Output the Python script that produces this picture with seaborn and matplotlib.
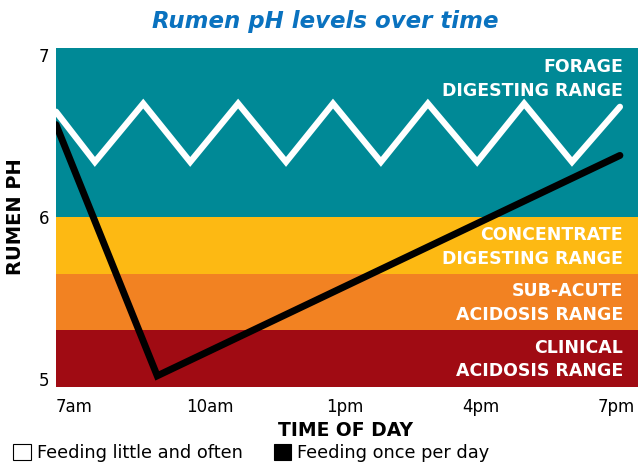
import matplotlib
matplotlib.use("Agg")
import matplotlib.pyplot as plt
import seaborn as sns
import pandas as pd
from matplotlib.patches import Patch

# time in hours of the day, pH values
little_often_hours = [6.60, 7.46, 8.53, 9.57, 10.63, 11.69, 12.73, 13.79, 14.83, 15.92, 16.96, 18.02, 19.08]
little_often_ph = [6.65, 6.34, 6.70, 6.34, 6.70, 6.34, 6.70, 6.34, 6.70, 6.34, 6.70, 6.34, 6.68]
once_hours = [6.60, 8.84, 19.08]
once_ph = [6.57, 5.02, 6.38]

tick_hours = [7, 10, 13, 16, 19]
tick_labels = ["7am", "10am", "1pm", "4pm", "7pm"]

bands = [
    (6.0, 7.2, "#008996", "FORAGE\nDIGESTING RANGE"),
    (5.65, 6.0, "#FDB913", "CONCENTRATE\nDIGESTING RANGE"),
    (5.3, 5.65, "#F28222", "SUB-ACUTE\nACIDOSIS RANGE"),
    (4.8, 5.3, "#A00B13", "CLINICAL\nACIDOSIS RANGE"),
]
label_y = [6.85, 5.815, 5.47, 5.12]

sns.set_style("white")
plt.rcParams['font.family'] = ['DejaVu Sans']
plt.rcParams['text.color'] = 'black'
plt.rcParams['axes.labelcolor'] = 'black'

fig = plt.figure(figsize=(6.38, 4.65), dpi=100)
ax = fig.add_axes([0.0878, 0.1677, 0.9122, 0.7291])

for (lo, hi, col, txt), ty in zip(bands, label_y):
    ax.axhspan(lo, hi, color=col, lw=0, zorder=0)
    ax.text(19.15, ty, txt, color="white", fontsize=12.5, fontweight="bold",
            ha="right", va="center", linespacing=1.4, zorder=3)

df_once = pd.DataFrame({"hour": once_hours, "ph": once_ph})
df_little = pd.DataFrame({"hour": little_often_hours, "ph": little_often_ph})

sns.lineplot(data=df_once, x="hour", y="ph", ax=ax, color="black", lw=5,
             sort=False, zorder=4, solid_joinstyle="miter")
sns.lineplot(data=df_little, x="hour", y="ph", ax=ax, color="white", lw=4.5,
             sort=False, zorder=5, solid_joinstyle="miter")

ax.set_xlim(6.6, 19.48)
ax.set_ylim(4.951, 7.043)
ax.set_xticks(tick_hours)
ax.set_xticklabels(tick_labels)
ax.set_yticks([5, 6, 7])
ax.tick_params(axis="both", length=0, labelsize=12, colors="black")
ax.tick_params(axis="x", pad=8)
ax.tick_params(axis="y", pad=5)
for s in ax.spines.values():
    s.set_visible(False)

ax.set_xlabel("TIME OF DAY", fontsize=13.5, fontweight="bold")
ax.xaxis.set_label_coords(0.497, -0.10)
ax.set_ylabel("RUMEN PH", fontsize=14, fontweight="bold")
ax.yaxis.set_label_coords(-0.053, 0.504)

fig.text(0.51, 0.953, "Rumen pH levels over time", color="#0A72BF",
         fontsize=16.5, fontweight="bold", style="italic", ha="center", va="center")

handles = [Patch(facecolor="white", edgecolor="black", lw=0.8),
           Patch(facecolor="black", edgecolor="black", lw=0.8)]
fig.legend(handles, ["Feeding little and often", "Feeding once per day"],
           loc="lower left", bbox_to_anchor=(-0.004, -0.028), ncol=2, frameon=False,
           fontsize=12.8, handlelength=1.0, handleheight=1.0, handletextpad=0.3,
           columnspacing=1.75)

fig.savefig("out.png", dpi=100)
